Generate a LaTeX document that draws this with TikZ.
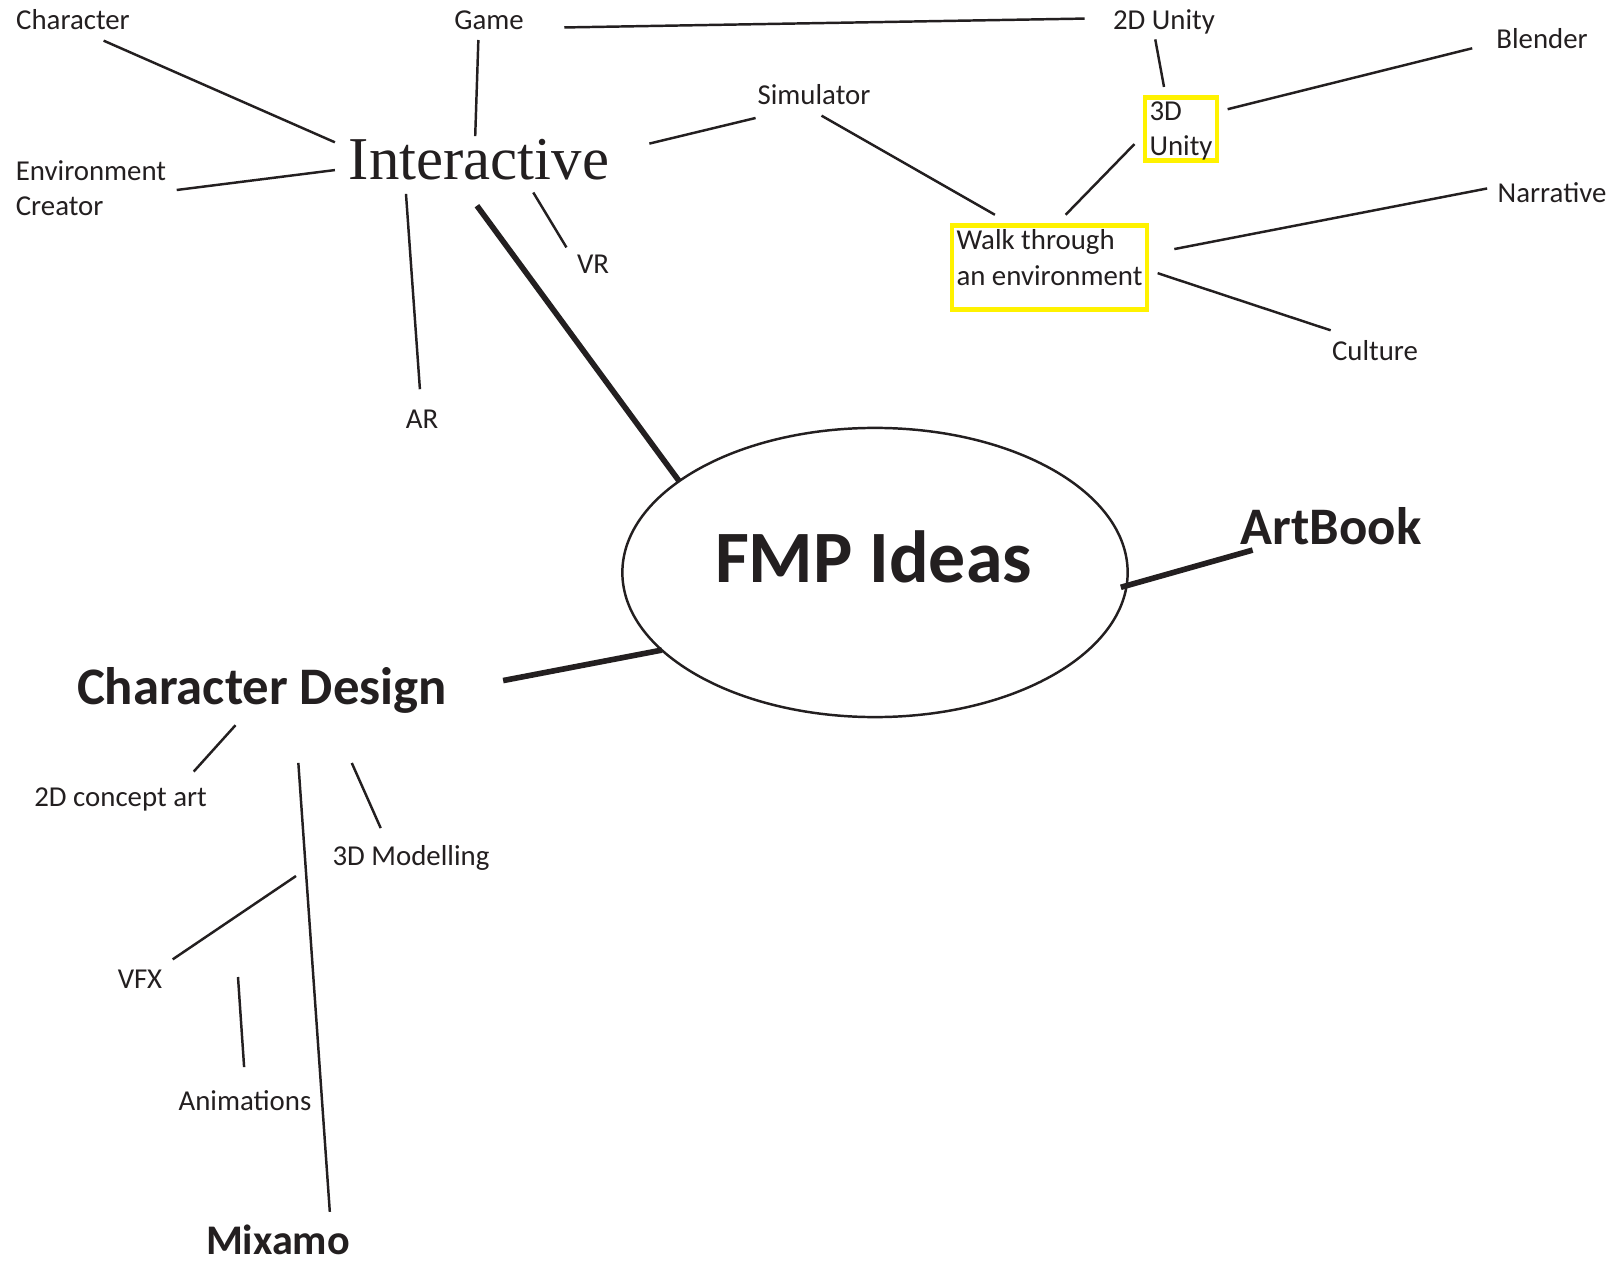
\documentclass[tikz,border=0pt]{standalone}
\usepackage{fontspec}
\setmainfont{Carlito}
\newfontfamily\headserif{Liberation Serif}
\usetikzlibrary{shapes.geometric}
\definecolor{ink}{HTML}{231F20}
\definecolor{hilite}{HTML}{FFF200}
\begin{document}
\begin{tikzpicture}[x=0.01cm, y=-0.01cm, color=ink, line width=0.7pt,
    lbl/.style={font=\fontsize{8.2}{10}\selectfont, inner sep=2pt, outer sep=1pt, align=left},
    hbox/.style={lbl, draw=hilite, line width=1.3pt, inner sep=1.3pt, outer sep=3pt},
    topic/.style={font=\fontsize{15}{18}\selectfont\bfseries, inner sep=2pt, outer sep=0pt},
    branch/.style={line width=1.6pt}]
  \path[fill=white] (0,0) rectangle (1616,1259);

  % centre
  \node[draw, ellipse, minimum width=5.05cm, minimum height=2.89cm, inner sep=0pt, outer sep=0pt] (fmp) at (875,572.5) {};
  \node[font=\fontsize{21}{25}\selectfont\bfseries] (fmplbl) at (873.5,556.5) {FMP Ideas};

  % interactive branch
  \node[font=\headserif\fontsize{17.3}{20}\selectfont, inner xsep=4pt, inner ysep=1pt, outer sep=0pt] (inter) at (479,160) {Interactive};
  \node[lbl] (char) at (73,20) {Character};
  \node[lbl] (game) at (489,20) {Game};
  \node[lbl] (envcr) at (91,188.5) {Environment\\Creator};
  \node[lbl] (vr) at (593,264) {VR};
  \node[lbl] (ar) at (422,419) {AR};
  \node[lbl] (simul) at (814,95) {Simulator};
  \node[lbl] (unity2d) at (1164,21.5) {2D Unity};
  \node[hbox, text depth=0pt] (u3) at (1181,129) {3D\\Unity};
  \node[lbl] (blender) at (1542,39) {Blender};
  \node[hbox, text depth=5.7pt] (walk) at (1049.5,267.5) {Walk through\\an environment};
  \node[lbl] (narr) at (1552,193) {Narrative};
  \node[lbl] (cult) at (1375,351) {Culture};

  \draw (char.-34) -- (inter.173);
  \draw (game.-118) -- (inter.99);
  \draw[shorten <=3mm, shorten >=1.8mm] (game.-10) -- (unity2d.177.5);
  \draw[shorten <=2.7mm, shorten >=1mm] (inter.4.5) -- (simul.-157);
  \draw (envcr.-1) -- (inter.-176);
  \draw[shorten <=1mm, shorten >=1mm] (inter.-162) -- (ar.94);
  \draw[shorten <=1mm] (inter.-26) -- (vr.148);
  \draw[branch, shorten <=2.7mm] (inter.-127) -- (fmp.155);
  \draw (simul.-70) -- (walk.136.5);
  \draw[shorten <=-0.5mm] (unity2d.-109) -- (u3.112);
  \draw[shorten >=1.4mm] (u3.23) -- (blender.-174);
  \draw (walk.73) -- (u3.-162.5);
  \draw[shorten <=1.7mm] (walk.8.4) -- (narr.176);
  \draw (walk.-3) -- (cult.155.3);

  % artbook
  \node[topic] (artbook) at (1331,526) {ArtBook};
  \draw[branch, shorten <=-0.6mm, shorten >=-0.6mm] (fmp.-3.5) -- (artbook.-163);

  % character design branch
  \node[topic] (cdes) at (262,690) {Character Design};
  \node[lbl] (concept) at (120.6,799) {2D concept art};
  \node[lbl] (model) at (411,857.5) {3D Modelling};
  \node[lbl] (vfx) at (140,979) {VFX};
  \node[lbl] (anim) at (245,1100.7) {Animations};
  \node[font=\fontsize{12}{14}\selectfont\bfseries, inner sep=2pt] (mixamo) at (278,1240) {Mixamo};
  \coordinate (vfxtop) at (296,876);
  \coordinate (animtop) at (238,977);

  \draw[branch, shorten <=5mm] (cdes.-0.5) -- (fmp.-160.6);
  \draw[shorten <=0.7mm, shorten >=0.7mm] (cdes.-126.5) -- (concept.18);
  \draw[shorten <=4.3mm, shorten >=0.5mm] (cdes.-42) -- (mixamo.24);
  \draw[shorten <=4.7mm, shorten >=0.7mm] (cdes.-23) -- (model.140.6);
  \draw (vfxtop) -- (vfx.31);
  \draw[shorten >=1.3mm] (animtop) -- (anim.north);
\end{tikzpicture}
\end{document}
